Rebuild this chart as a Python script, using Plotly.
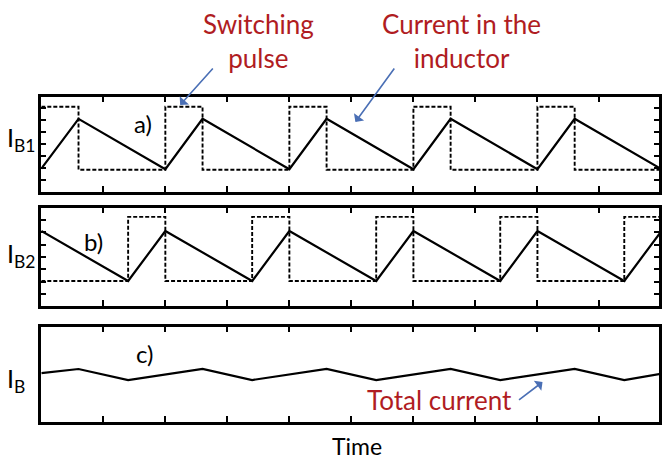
import plotly.graph_objects as go

# ---------------- data (time in tick units) ----------------
pulse_a_t = [0.0, 0.6, 2.0, 2.6, 4.0, 4.6, 6.0, 6.6, 8.0, 8.6, 10.0]
pulse_a_v = [6.1, 0.85, 6.1, 0.85, 6.1, 0.85, 6.1, 0.85, 6.1, 0.85, 6.1]
current_a_t = [0.0, 0.6, 2.0, 2.6, 4.0, 4.6, 6.0, 6.6, 8.0, 8.6, 10.0]
current_a_v = [0.95, 5.1, 0.9, 5.1, 0.9, 5.1, 0.9, 5.1, 0.9, 5.1, 0.9]

pulse_b_t = [0.0, 1.4, 2.0, 3.4, 4.0, 5.4, 6.0, 7.4, 8.0, 9.4, 10.0]
pulse_b_v = [1.05, 6.24, 1.05, 6.24, 1.05, 6.24, 1.05, 6.24, 1.05, 6.24, 1.05]
current_b_t = [0.0, 1.4, 2.0, 3.4, 4.0, 5.4, 6.0, 7.4, 8.0, 9.4, 10.0]
current_b_v = [5.1, 1.05, 5.1, 1.05, 5.1, 1.05, 5.1, 1.05, 5.1, 1.05, 5.1]

total_t = [0.0, 0.6, 1.4, 2.6, 3.4, 4.6, 5.4, 6.6, 7.4, 8.6, 9.4, 10.0]
total_v = [4.15, 4.5, 3.58, 4.5, 3.58, 4.5, 3.58, 4.5, 3.58, 4.5, 3.58, 4.1]

x_ticks = [1, 2, 3, 4, 5, 6, 7, 8, 9]
y_ticks = [0, 1, 2, 3, 4, 5, 6]

W, H = 662, 460
def px(x):
    return x / W
def py(y):
    return 1 - y / H

RED = "#b01c22"
BLUE = "#4a6fb5"
FONT = "Lato"

fig = go.Figure()
dash = dict(color="black", width=1.9, dash="4px,2px")
solid = dict(color="black", width=2.2)

fig.add_trace(go.Scatter(x=pulse_a_t, y=pulse_a_v, mode="lines", line=dict(shape="hv", **dash), xaxis="x", yaxis="y"))
fig.add_trace(go.Scatter(x=current_a_t, y=current_a_v, mode="lines", line=solid, xaxis="x", yaxis="y"))
fig.add_trace(go.Scatter(x=pulse_b_t, y=pulse_b_v, mode="lines", line=dict(shape="hv", **dash), xaxis="x2", yaxis="y2"))
fig.add_trace(go.Scatter(x=current_b_t, y=current_b_v, mode="lines", line=solid, xaxis="x2", yaxis="y2"))
fig.add_trace(go.Scatter(x=total_t, y=total_v, mode="lines", line=solid, xaxis="x3", yaxis="y3"))

def xax(anchor):
    return dict(range=[0, 9.96], domain=[px(41.5), 1], anchor=anchor,
                showline=True, linewidth=2.5, linecolor="black", mirror="ticks",
                ticks="inside", ticklen=6, tickwidth=1.5, tickcolor="black",
                tickvals=x_ticks, showticklabels=False, showgrid=False, zeroline=False)

def yax(anchor, rng, dom, ticks=True):
    d = dict(range=rng, domain=dom, anchor=anchor,
             showline=True, linewidth=2.5, linecolor="black",
             showticklabels=False, showgrid=False, zeroline=False)
    if ticks:
        d.update(mirror="ticks", ticks="inside", ticklen=5, tickwidth=1.5,
                 tickcolor="black", tickvals=y_ticks)
    else:
        d.update(mirror=True, ticks="")
    return d

fig.update_layout(
    width=W, height=H, margin=dict(l=0, r=0, t=0, b=0),
    paper_bgcolor="white", plot_bgcolor="white", showlegend=False,
    xaxis=xax("y"), xaxis2=xax("y2"), xaxis3=xax("y3"),
    yaxis=yax("x", [-1.0, 6.96], [py(192), py(96.5)]),
    yaxis2=yax("x2", [-0.973, 7.0], [py(306), py(207.5)]),
    yaxis3=yax("x3", [0.083, 8.04], [py(422), py(326.5)], ticks=False),
)

ann = []
def txt(text, x, y, size, color="black", xanchor="center"):
    ann.append(dict(text=text, x=px(x), y=py(y), xref="paper", yref="paper",
                    xanchor=xanchor, yanchor="middle", showarrow=False,
                    font=dict(family=FONT, size=size, color=color)))

def arrow(hx, hy, tx, ty):
    ann.append(dict(text="", x=px(hx), y=py(hy), xref="paper", yref="paper",
                    ax=tx - hx, ay=ty - hy, showarrow=True, arrowhead=1,
                    arrowsize=1.3, arrowwidth=1.6, arrowcolor=BLUE, standoff=0))

txt("Switching<br>pulse", 260, 41, 26, RED)
txt("Current in the<br>inductor", 464, 41, 26, RED)
txt("Total current", 441, 400, 26, RED)
txt("Time", 359, 446, 23)
txt("I<sub>B1</sub>", 5, 139, 25, xanchor="left")
txt("I<sub>B2</sub>", 5, 255, 25, xanchor="left")
txt("I<sub>B</sub>", 5, 380, 25, xanchor="left")
txt("a)", 144, 123, 24)
txt("b)", 94, 242, 24)
txt("c)", 145, 353, 24)

arrow(181, 105, 215, 67)
arrow(357, 122, 397, 67)
arrow(545, 382, 520, 401)

fig.update_layout(annotations=ann)
fig.write_html("out.html")
